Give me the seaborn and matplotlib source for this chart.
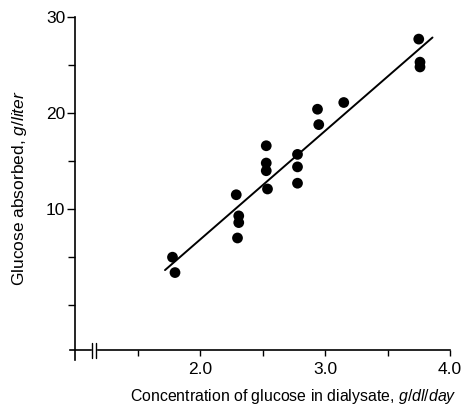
import numpy as np
import pandas as pd
import matplotlib
matplotlib.use("Agg")
import matplotlib.pyplot as plt
import matplotlib.transforms as mtransforms
import seaborn as sns

# ---- data ----
conc = [1.78, 1.80, 2.29, 2.31, 2.31, 2.30, 2.53, 2.53, 2.53, 2.54,
        2.78, 2.78, 2.78, 2.94, 2.95, 3.15, 3.75, 3.76, 3.76]
absorbed = [5.0, 3.4, 11.5, 9.3, 8.6, 7.0, 16.6, 14.8, 14.0, 12.1,
            15.7, 14.4, 12.7, 20.4, 18.8, 21.1, 27.7, 25.3, 24.8]
x_major = [2.0, 3.0, 4.0]
x_minor = [1.5, 2.5, 3.5]
x_labels = ["2.0", "3.0", "4.0"]
y_major = [10, 20, 30]
y_minor = [0, 5, 15, 25]
y_labels = ["10", "20", "30"]
fit_range = [1.72, 3.86]
axis_break = [1.136, 1.166]

df = pd.DataFrame({"conc": conc, "absorbed": absorbed})

sns.set_style("ticks")
plt.rcParams["font.family"] = ["Liberation Sans", "DejaVu Sans"]
plt.rcParams["mathtext.fontset"] = "custom"
plt.rcParams["mathtext.rm"] = "Liberation Sans"
plt.rcParams["mathtext.it"] = "Liberation Sans:italic"

fig = plt.figure(figsize=(4.62, 4.07), dpi=100)
ax = fig.add_axes([70 / 462, 1 - 360 / 407, 380 / 462, 343 / 407])

# regression line over the drawn range
ax.set_xlim(*fit_range)
sns.regplot(data=df, x="conc", y="absorbed", ax=ax, scatter=False, ci=None,
            truncate=False, line_kws=dict(color="black", lw=1.4))
sns.scatterplot(data=df, x="conc", y="absorbed", ax=ax, color="black",
                s=60, edgecolor="none", zorder=3)

ax.set_xlim(0.96, 4.0)
ax.set_ylim(-5.7, 30)
ax.spines["right"].set_visible(False)
ax.spines["top"].set_visible(False)
ax.spines["left"].set_position(("data", 1.0))
ax.spines["bottom"].set_position(("data", -4.7))
for sp in ("left", "bottom"):
    ax.spines[sp].set_linewidth(1.2)
    ax.spines[sp].set_color("black")

ax.set_xticks(x_major)
ax.set_xticklabels(x_labels)
ax.set_xticks(x_minor, minor=True)
ax.set_yticks(y_major)
ax.set_yticklabels(y_labels)
ax.set_yticks(y_minor, minor=True)
ax.tick_params(which="both", width=1.0, color="black", labelcolor="black",
               labelsize=12.5)
ax.tick_params(axis="y", which="major", length=6, pad=1)
ax.tick_params(axis="y", which="minor", length=5)
ax.tick_params(axis="x", which="major", length=4.5, pad=3.5)
ax.tick_params(axis="x", which="minor", length=4.5)

# axis break marks on x axis
trans = mtransforms.blended_transform_factory(ax.transData, ax.transAxes)
y0 = (-4.7 + 5.7) / 35.7
ax.fill_between(axis_break, y0 - 0.004, y0 + 0.004, color="white",
                transform=trans, zorder=4, clip_on=False)
for xb in axis_break:
    ax.plot([xb, xb], [y0 - 0.022, y0 + 0.022], color="black", lw=1.0,
            transform=trans, clip_on=False, zorder=5)

ax.set_xlabel(r"Concentration of glucose in dialysate, $\it{g/dl/day}$",
              fontsize=11.4, color="black", va="center")
ax.set_ylabel(r"Glucose absorbed, $\it{g/liter}$", fontsize=12.5,
              color="black", va="center")
ax.xaxis.set_label_coords((293 - 70) / 380, (360 - 396) / 343)
ax.yaxis.set_label_coords((20 - 70) / 380, (360 - 188) / 343)

fig.savefig("out.png", dpi=100)
